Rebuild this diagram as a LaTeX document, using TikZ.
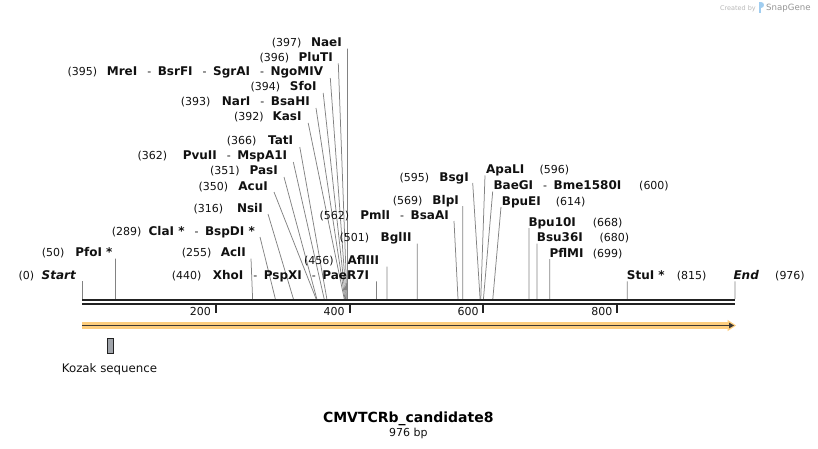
\documentclass[tikz,border=0pt]{standalone}
\usepackage{fontspec}
\setmainfont{DejaVu Sans}
\definecolor{cutgray}{RGB}{130,130,130}
\definecolor{bbcol}{RGB}{34,34,34}
\definecolor{featorange}{RGB}{253,205,125}
\definecolor{featdark}{RGB}{60,55,50}
\definecolor{kozakfill}{RGB}{160,164,170}
\definecolor{txt}{RGB}{17,17,17}
\definecolor{logoblue}{RGB}{160,205,240}
\newcommand\dsh{\hspace{10pt}{\fontsize{11}{13}\selectfont\mdseries -}\hspace{6.5pt}}
\tikzset{
  numlab/.style={anchor=base west, inner sep=0pt, text=txt, font=\fontsize{11}{13}\selectfont},
  lname/.style={anchor=base east, inner sep=0pt, text=txt, font=\fontsize{12}{14}\selectfont\bfseries},
  rname/.style={anchor=base west, inner sep=0pt, text=txt, font=\fontsize{12}{14}\selectfont\bfseries},
  cutline/.style={draw=cutgray, line width=0.75pt},
  bbline/.style={draw=bbcol, line width=2.1pt},
  tickmark/.style={draw=bbcol, line width=2pt},
  ticklab/.style={anchor=base east, inner sep=0pt, text=txt, font=\fontsize{11}{13}\selectfont},
}
\newcommand\leftlab[8]{%
  \node[numlab] (#1n) at (#3,#6) {(#2)};
  \node[lname] (#1) at (#5,#6) {#4};
  \coordinate (#1c) at ({82+#8*0.669057},299);
  \draw[cutline] (#1.base east) ++(#7,2) -- (#1c);
}
\newcommand\rightlab[8]{%
  \node[numlab] (#1n) at (#3,#6) {(#2)};
  \node[rname] (#1) at (#5,#6) {#4};
  \coordinate (#1c) at ({82+#8*0.669057},299);
  \draw[cutline] (#1.base west) ++(#7,2) -- (#1c);
}
\begin{document}
\begin{tikzpicture}[x=1pt,y=-1pt]
\useasboundingbox (0,0) rectangle (818,449);
% credit
\node[anchor=base east, inner sep=0pt, text=black!28, font=\fontsize{6.5}{8}\selectfont] (credit) at (756,10.5) {Created by};
\fill[logoblue] (759,2.5) rectangle (760.9,13);
\fill[logoblue] (760.9,2.5) .. controls (764.8,2.5) and (764.8,8.5) .. (760.9,8.5) -- cycle;
\node[anchor=base west, inner sep=0pt, text=black!42, font=\fontsize{8.6}{10}\selectfont] (snapgene) at (766,11) {SnapGene};
% left labels
\leftlab{naeI}{397}{271.7}{NaeI}{342}{46.7}{5.6}{397}
\leftlab{pluTI}{396}{259.3}{PluTI}{333}{61.3}{5.3}{396}
\leftlab{mreI}{395}{67.3}{MreI\dsh BsrFI\dsh SgrAI\dsh NgoMIV}{323.3}{76}{7}{395}
\leftlab{sfoI}{394}{250.3}{SfoI}{316.7}{91}{6.5}{394}
\leftlab{narI}{393}{180.7}{NarI\dsh BsaHI}{310}{106}{6}{393}
\leftlab{kasI}{392}{234}{KasI}{301.7}{121}{6.5}{392}
\leftlab{tatI}{366}{226.7}{TatI}{293.3}{145}{6.5}{366}
\leftlab{pvuII}{362}{137.3}{PvuII\dsh MspA1I}{287.3}{160}{6}{362}
\leftlab{pasI}{351}{210}{PasI}{278}{175}{6}{351}
\leftlab{acuI}{350}{198.3}{AcuI}{268}{190}{6}{350}
\leftlab{nsiI}{316}{193.3}{NsiI}{263}{212}{5}{316}
\leftlab{claI}{289}{111.7}{ClaI *\dsh BspDI *}{255}{235}{5}{289}
\leftlab{pfoI}{50}{41.7}{PfoI *}{112.7}{256.7}{2.75}{50}
\leftlab{aclI}{255}{181.7}{AclI}{246}{256.7}{5}{255}
\leftlab{startl}{0}{18.3}{\itshape Start}{76}{279.3}{6}{0}
\leftlab{xhoI}{440}{171.7}{XhoI\dsh PspXI\dsh PaeR7I}{369.3}{279.3}{7.1}{440}
\leftlab{aflIII}{456}{304}{AflIII}{379.3}{264.5}{7.8}{456}
\leftlab{bglII}{501}{339.3}{BglII}{411.7}{241.7}{5.5}{501}
\leftlab{pmlI}{562}{319.3}{PmlI\dsh BsaAI}{449}{219}{5}{562}
\leftlab{blpI}{569}{392.7}{BlpI}{459}{204}{3.7}{569}
\leftlab{bsgI}{595}{399.3}{BsgI}{469}{181}{3.7}{595}
% right labels
\rightlab{apaLI}{596}{539.3}{ApaLI}{486}{173.5}{-1}{596}
\rightlab{baeGI}{600}{639}{BaeGI\dsh Bme1580I}{493.3}{189.5}{-0.6}{600}
\rightlab{bpuEI}{614}{555.7}{BpuEI}{501.7}{205}{-0.7}{614}
\rightlab{bpuTenI}{668}{592.7}{Bpu10I}{528.3}{226}{0.6}{668}
\rightlab{bsuI}{680}{599.3}{Bsu36I}{536.7}{241.7}{0.3}{680}
\rightlab{pflMI}{699}{592.7}{PflMI}{549.3}{257}{0.4}{699}
\rightlab{stuI}{815}{676.7}{StuI *}{626.7}{279.3}{0.6}{815}
\rightlab{endl}{976}{775}{\itshape End}{733.3}{279.3}{1.7}{976}
% backbone
\draw[bbline] (82,300) -- (735,300);
\draw[bbline] (82,304.3) -- (735,304.3);
\foreach \t in {200,400,600,800}{
  \draw[tickmark] ({82+\t*0.669057},305) -- ++(0,7.5);
  \node[ticklab] (tk\t) at ({82+\t*0.669057-4.7},315) {\t};
}
% feature arrow
\fill[featorange] (82,322.3) rectangle (728.5,328.7);
\fill[featorange] (727.5,319.8) -- (736,325.5) -- (727.5,331.2) -- cycle;
\draw[featdark, line width=1.6pt] (82,325.5) -- (730,325.5);
\fill[featdark] (729,322.6) -- (734,325.5) -- (729,328.4) -- cycle;
% Kozak
\draw[fill=kozakfill, draw=bbcol, line width=0.8pt] (107.5,338.5) rectangle (113,353.5);
\node[anchor=base, inner sep=0pt, text=txt, font=\fontsize{11.8}{14}\selectfont] (kozak) at (109.5,372) {Kozak sequence};
% title
\node[anchor=base, inner sep=0pt, text=black, font=\fontsize{14}{16}\selectfont\bfseries] (title) at (408.3,422.7) {CMVTCRb\_candidate8};
\node[anchor=base, inner sep=0pt, text=txt, font=\fontsize{11}{13}\selectfont] (size) at (408.3,436.5) {976 bp};
\end{tikzpicture}
\end{document}
